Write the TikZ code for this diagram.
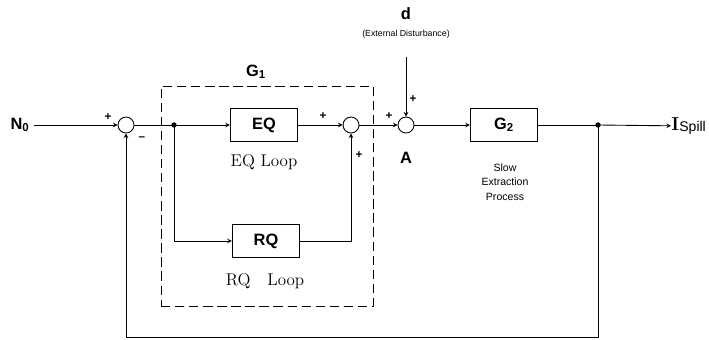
\documentclass[tikz,border=0pt]{standalone}
\usepackage{fontspec}
\setsansfont{Liberation Sans}
\usetikzlibrary{positioning}

\begin{document}
\begin{tikzpicture}[x=0.03cm,y=-0.03cm,>=stealth,line width=0.75pt,font=\sffamily,
 blk/.style={draw,minimum width=2.02cm,minimum height=0.99cm,inner sep=0pt,font=\sffamily\bfseries\fontsize{14}{16}\selectfont},
 sumnode/.style={draw,circle,minimum size=0.48cm,inner sep=0pt},
 sgn/.style={inner sep=0pt,font=\sffamily\bfseries\fontsize{10}{10}\selectfont},
 loop/.style={font=\rmfamily\fontsize{14.5}{16}\selectfont},
 big/.style={font=\sffamily\bfseries\fontsize{14}{16}\selectfont}]
\useasboundingbox (0,0) rectangle (709,339);
% G1 block, dashed
\node[draw,dash pattern=on 8pt off 4pt,minimum width=6.36cm,minimum height=6.6cm] (g1) at (267,196) {};
\node[big] (g1lab) at (256,72) {G\textsubscript{1}};
% blocks and summing points
\node[big] (n0) at (20,125) {N\textsubscript{0}};
\node[sumnode] (s1) at (126,125) {};
\node[blk] (eq) at (264,125) {EQ};
\node[blk] (rq) at (266,241) {RQ};
\node[sumnode] (s2) at (351,125) {};
\node[sumnode] (sa) at (406,125) {};
\node[blk] (g2) at (504,125) {G\textsubscript{2}};
\node[anchor=west,inner sep=0pt] (ispill) at (671,126) {\rmfamily\bfseries\fontsize{16}{18}\selectfont I\raisebox{-0.2ex}{\sffamily\mdseries\fontsize{12}{12}\selectfont Spill}};
% texts
\node[loop] (eqloop) at (264,162) {EQ Loop};
\node[loop] (rqloop) at (265,281) {RQ\quad Loop};
\node[big] (alab) at (406,158) {A};
\node[big] (dlab) at (406,14) {d};
\node[font=\sffamily\fontsize{7.5}{9}\selectfont] (dext) at (406,34) {(External Disturbance)};
\node[align=center,font=\sffamily\fontsize{9}{12.5}\selectfont] (slow) at (505,182) {Slow\\Extraction\\Process};
% signs
\node[sgn] at (108,117) {+};
\node[sgn] at (142,139) {--};
\node[sgn] at (323,116) {+};
\node[sgn] at (359,155) {+};
\node[sgn] at (389,116) {+};
\node[sgn] at (413,99) {+};
% branch points
\coordinate (b1) at (174,125);
\coordinate (b2) at (598,125);
\coordinate (dtop) at (406,57);
\coordinate (fb) at (598,337);
\fill (b1) circle (2.3pt);
\fill (b2) circle (2.3pt);
% connectors
\draw[->] (n0) -- (s1);
\draw (s1) -- (b1);
\draw[->] (b1) -- (eq);
\draw[->] (b1) |- (rq);
\draw[->] (eq) -- (s2);
\draw[->] (rq.east) -| (s2.south);
\draw[->] (s2) -- (sa);
\draw[->] (dtop) -- (sa);
\draw[->] (sa) -- (g2);
\draw (g2) -- (b2);
\draw[->] (b2) -- (ispill);
\draw[->] (b2) -- (fb) -| (s1.south);
\end{tikzpicture}
\end{document}
